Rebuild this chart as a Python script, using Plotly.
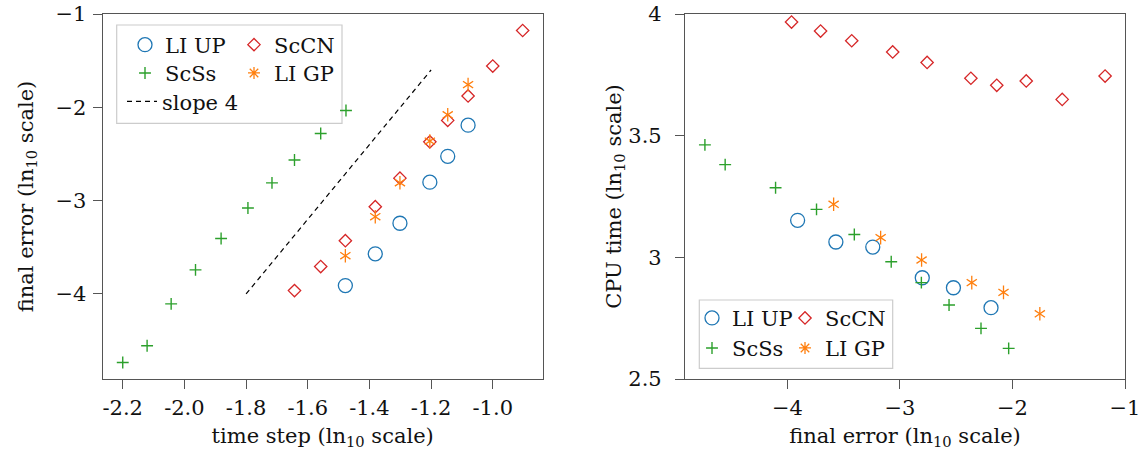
import plotly.graph_objects as go

# ---------------- data (log10 values) ----------------
# ScSs
scss_dt = [-2.200, -2.121, -2.043, -1.964, -1.881, -1.794, -1.716, -1.643, -1.558, -1.476]
scss_err = [-4.734, -4.554, -4.106, -3.742, -3.406, -3.078, -2.810, -2.564, -2.280, -2.034]
scss_cpu = [3.462, 3.381, 3.286, 3.197, 3.094, 2.982, 2.896, 2.804, 2.708, 2.626]
# ScCN
sccn_dt = [-1.643, -1.558, -1.478, -1.381, -1.301, -1.204, -1.146, -1.080, -1.000, -0.903]
sccn_err = [-3.964, -3.706, -3.429, -3.065, -2.759, -2.370, -2.140, -1.878, -1.558, -1.177]
sccn_cpu = [3.967, 3.930, 3.890, 3.844, 3.801, 3.736, 3.707, 3.725, 3.649, 3.745]
# LI UP
liup_dt = [-1.478, -1.381, -1.301, -1.204, -1.146, -1.080]
liup_err = [-3.910, -3.570, -3.242, -2.802, -2.525, -2.191]
liup_cpu = [3.152, 3.063, 3.042, 2.916, 2.875, 2.793]
# LI GP
ligp_dt = [-1.478, -1.381, -1.301, -1.204, -1.146, -1.080]
ligp_err = [-3.590, -3.172, -2.808, -2.362, -2.080, -1.757]
ligp_cpu = [3.218, 3.081, 2.989, 2.896, 2.856, 2.768]
# reference slope-4 line
slope_dt = [-1.8, -1.2]
slope_err = [-4.0, -1.6]

# tick labels
dt_ticks = [-2.2, -2.0, -1.8, -1.6, -1.4, -1.2, -1.0]
dt_ticktext = ["-2.2", "-2.0", "-1.8", "-1.6", "-1.4", "-1.2", "-1.0"]
err_ticks = [-4, -3, -2, -1]
err_ticktext = ["\u22124", "\u22123", "\u22122", "\u22121"]
cpu_ticks = [2.5, 3, 3.5, 4]
cpu_ticktext = ["2.5", "3", "3.5", "4"]

# ---------------- styling ----------------
W, H = 1142, 450
FONT = "DejaVu Serif"
FS = 21
TXT = "#111111"
C_BLUE, C_RED, C_GREEN, C_ORANGE = "#1f77b4", "#d62728", "#2ca02c", "#ff7f0e"
AX_COL = "#555555"


def px(x):
    return x / W


def py(y):
    return 1 - y / H


sym = {
    "LI UP": dict(symbol="circle-open", size=14, color=C_BLUE, line=dict(width=1.3, color=C_BLUE)),
    "ScCN": dict(symbol="diamond-open", size=9.5, color=C_RED, line=dict(width=1.3, color=C_RED)),
    "ScSs": dict(symbol="cross-thin-open", size=8.5, color=C_GREEN, line=dict(width=1.4, color=C_GREEN)),
    "LI GP": dict(symbol="asterisk-open", size=10, color=C_ORANGE, line=dict(width=1.3, color=C_ORANGE)),
}
star_up = dict(symbol="y-up-open", size=8.5, color=C_ORANGE, line=dict(width=1.3, color=C_ORANGE))
star_dn = dict(symbol="y-down-open", size=8.5, color=C_ORANGE, line=dict(width=1.3, color=C_ORANGE))

fig = go.Figure()


def add_panel(xa, ya, sets, leg_row1, leg_row2, w_first):
    x, y = sets["LI UP"]
    fig.add_trace(go.Scatter(x=x, y=y, mode="markers", name="LI UP", marker=sym["LI UP"],
                             xaxis=xa, yaxis=ya, legend=leg_row1, legendwidth=w_first))
    x, y = sets["ScCN"]
    fig.add_trace(go.Scatter(x=x, y=y, mode="markers", name="ScCN", marker=sym["ScCN"],
                             xaxis=xa, yaxis=ya, legend=leg_row1, legendwidth=90))
    x, y = sets["ScSs"]
    fig.add_trace(go.Scatter(x=x, y=y, mode="markers", name="ScSs", marker=sym["ScSs"],
                             xaxis=xa, yaxis=ya, legend=leg_row2, legendwidth=w_first))
    x, y = sets["LI GP"]
    fig.add_trace(go.Scatter(x=x, y=y, mode="markers", name="LI GP", marker=star_up,
                             xaxis=xa, yaxis=ya, showlegend=False))
    fig.add_trace(go.Scatter(x=x, y=y, mode="markers", name="LI GP", marker=star_dn,
                             xaxis=xa, yaxis=ya, showlegend=False))
    # legend-only entry for LI GP
    fig.add_trace(go.Scatter(x=[None], y=[None], mode="markers", name="LI GP", marker=sym["LI GP"],
                             xaxis=xa, yaxis=ya, legend=leg_row2, legendwidth=90))


add_panel("x", "y", {
    "LI UP": (liup_dt, liup_err),
    "ScCN": (sccn_dt, sccn_err),
    "ScSs": (scss_dt, scss_err),
    "LI GP": (ligp_dt, ligp_err),
}, "legend", "legend2", 64)
fig.add_trace(go.Scatter(x=slope_dt, y=slope_err, mode="lines", name="slope 4",
                         line=dict(color="black", width=1.2, dash="5px,4px"),
                         xaxis="x", yaxis="y", legend="legend3"))

add_panel("x2", "y2", {
    "LI UP": (liup_err, liup_cpu),
    "ScCN": (sccn_err, sccn_cpu),
    "ScSs": (scss_err, scss_cpu),
    "LI GP": (ligp_err, ligp_cpu),
}, "legend4", "legend5", 48)

axis_common = dict(
    showline=True, mirror=True, linecolor=AX_COL, linewidth=1.2,
    ticks="outside", ticklen=9, tickwidth=1.2, tickcolor=AX_COL,
    showgrid=False, zeroline=False, ticklabeloverflow="allow",
    tickfont=dict(family=FONT, size=FS, color=TXT),
    title_font=dict(family=FONT, size=FS, color=TXT),
    automargin=False,
)

ydom = [py(379), py(14)]
fig.update_layout(
    width=W, height=H,
    margin=dict(l=0, r=0, t=0, b=0),
    paper_bgcolor="white", plot_bgcolor="white",
    font=dict(family=FONT, size=FS, color=TXT),
    xaxis=dict(axis_common, domain=[px(102.7), px(542.7)], range=[-2.265, -0.838],
               tickvals=dt_ticks, ticktext=dt_ticktext, anchor="y", ticklabelstandoff=1,
               title=dict(text="time step (ln<sub>10</sub> scale)", standoff=9)),
    yaxis=dict(axis_common, domain=ydom, range=[-4.911, -1], anchor="x",
               tickvals=err_ticks, ticktext=err_ticktext, ticklabelstandoff=2,
               title=dict(text="final error (ln<sub>10</sub> scale)", standoff=16)),
    xaxis2=dict(axis_common, domain=[px(685), px(1125)], range=[-4.911, -1],
                tickvals=err_ticks, ticktext=err_ticktext, anchor="y2", ticklabelstandoff=1,
                title=dict(text="final error (ln<sub>10</sub> scale)", standoff=9)),
    yaxis2=dict(axis_common, domain=ydom, range=[2.5, 4], anchor="x2",
                tickvals=cpu_ticks, ticktext=cpu_ticktext, ticklabelstandoff=9,
                title=dict(text="CPU time (ln<sub>10</sub> scale)", standoff=0)),
)

leg_common = dict(orientation="h", xanchor="left", yanchor="middle", borderwidth=0,
                  bgcolor="rgba(0,0,0,0)", font=dict(family=FONT, size=FS, color=TXT),
                  itemwidth=30, traceorder="normal")
fig.update_layout(
    legend=dict(leg_common, x=px(125), y=py(45)),
    legend2=dict(leg_common, x=px(125), y=py(73.3)),
    legend3=dict(leg_common, x=px(122), y=py(101.7)),
    legend4=dict(leg_common, x=px(692), y=py(318.3)),
    legend5=dict(leg_common, x=px(692), y=py(348.3)),
)

# legend frames
fig.add_shape(type="rect", xref="paper", yref="paper",
              x0=px(116.7), x1=px(342), y0=py(123.3), y1=py(25),
              line=dict(color="#cccccc", width=1.2), fillcolor="white", layer="below")
fig.add_shape(type="rect", xref="paper", yref="paper",
              x0=px(699.3), x1=px(892.7), y0=py(368.3), y1=py(300),
              line=dict(color="#cccccc", width=1.2), fillcolor="white", layer="below")

fig.write_html("out.html", config={"displayModeBar": False},
               post_script="document.body.style.margin='0px';")
